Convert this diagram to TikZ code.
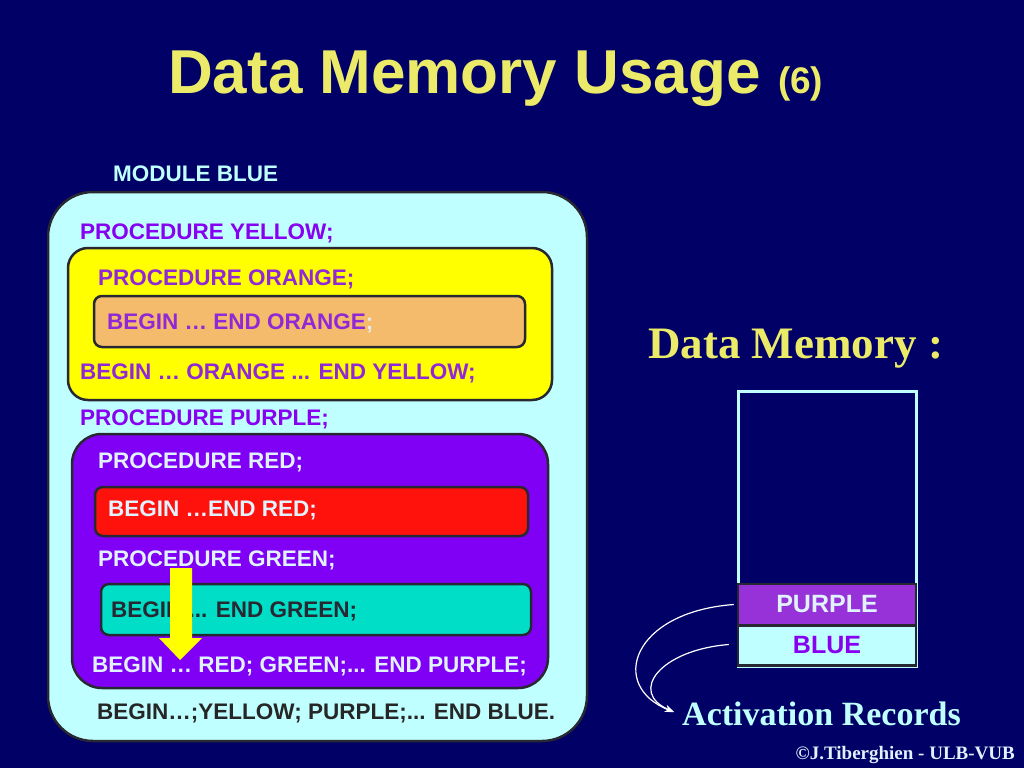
\documentclass[tikz,border=0pt]{standalone}
\usepackage{fontspec}
\setmainfont{Liberation Serif}
\setsansfont{Liberation Sans}
\usepackage{tikz}
\usetikzlibrary{arrows.meta}

\definecolor{slidebg}{RGB}{0,0,102}
\definecolor{titleyellow}{RGB}{235,235,105}
\definecolor{paleblue}{RGB}{192,255,255}
\definecolor{boxline}{RGB}{40,40,50}
\definecolor{violettext}{RGB}{135,0,240}
\definecolor{orchidtext}{RGB}{145,40,215}
\definecolor{procyellow}{RGB}{255,255,0}
\definecolor{procorange}{RGB}{244,187,108}
\definecolor{procpurple}{RGB}{128,0,245}
\definecolor{procred}{RGB}{255,18,12}
\definecolor{procgreen}{RGB}{0,222,200}
\definecolor{lighttext}{RGB}{225,242,255}
\definecolor{recpurple}{RGB}{150,50,215}

\begin{document}
\begin{tikzpicture}[x=1pt, y=-1pt,
            procbox/.style={rectangle, draw=boxline, line width=2.5pt, inner sep=0pt},
            code/.style={anchor=base west, inner sep=0pt, font=\sffamily\bfseries\fontsize{22.5}{27}\selectfont},
            cell/.style={rectangle, draw=boxline, line width=2.5pt, inner sep=0pt, minimum width=178, font=\sffamily\bfseries\fontsize{25}{30}\selectfont},
            curve/.style={draw=white, line width=1.2pt, -{Stealth[length=9pt, width=7pt]}}
        ]

            % Slide background
            \fill[slidebg] (0,0) rectangle (1024,768);
            \useasboundingbox (0,0) rectangle (1024,768);

            % Title
            \node[anchor=base west, inner sep=0pt, text=titleyellow, font=\sffamily\bfseries\fontsize{62}{70}\selectfont] (title) at (168,93) {Data Memory Usage \fontsize{37}{40}\selectfont(6)};

            % Module BLUE
            \node[code, text=paleblue] (modlabel) at (113,181) {MODULE BLUE};
            \node[procbox, fill=paleblue, rounded corners=45pt, minimum width=539, minimum height=549] (blue) at (317.5,466.5) {};
            \node[code, text=violettext] (procyellow) at (80,239) {PROCEDURE YELLOW;};

            % Procedure YELLOW with ORANGE inside
            \node[procbox, fill=procyellow, rounded corners=20pt, minimum width=484, minimum height=152] (yellow) at (310,324) {};
            \node[code, text=orchidtext] (procorange) at (98,285) {PROCEDURE ORANGE;};
            \node[procbox, fill=procorange, rounded corners=8pt, minimum width=431, minimum height=51] (orange) at (309.5,321.5) {};
            \node[code, text=orchidtext] (orangebody) at (107,329) {BEGIN … END ORANGE\textcolor{lighttext!85!procorange}{;}};
            \node[code, text=orchidtext] (yellowbody) at (80,379) {BEGIN … ORANGE ... END YELLOW;};

            % Procedure PURPLE with RED and GREEN inside
            \node[code, text=violettext] (procpurple) at (80,425) {PROCEDURE PURPLE;};
            \node[procbox, fill=procpurple, rounded corners=30pt, minimum width=476, minimum height=254] (purple) at (310,561) {};
            \node[code, text=lighttext] (procred) at (98,468) {PROCEDURE RED;};
            \node[procbox, fill=procred, rounded corners=8pt, minimum width=433, minimum height=49] (red) at (311.5,511.5) {};
            \node[code, text=lighttext] (redbody) at (108,516) {BEGIN …END RED;};
            \node[code, text=lighttext] (procgreen) at (98,566) {PROCEDURE GREEN;};
            \node[procbox, fill=procgreen, rounded corners=8pt, minimum width=430, minimum height=51] (green) at (316,609.5) {};
            \node[code, text=boxline] (greenbody) at (111,617) {BEGIN ... END GREEN;};
            \node[code, text=lighttext] (purplebody) at (92,672) {BEGIN … RED; GREEN;... END PURPLE;};
            \node[code, text=black!85] (bluebody) at (97,719) {BEGIN…;YELLOW; PURPLE;... END BLUE.};

            % Yellow call arrow
            \fill[procyellow] (170,568) -- (192,568) -- (192,638) -- (202,638) -- (180,660) -- (159,638) -- (170,638) -- cycle;

            % Data memory
            \node[anchor=base west, inner sep=0pt, text=titleyellow, font=\rmfamily\bfseries\fontsize{45}{50}\selectfont] (memlabel) at (648,358) {Data Memory :};
            \node[rectangle, draw=paleblue, line width=3pt, minimum width=178, minimum height=275, inner sep=0pt] (mem) at (827,528.5) {};
            \node[cell, fill=recpurple, text=lighttext, minimum height=41] (recpurple) at (827,604.5) {PURPLE};
            \node[cell, fill=paleblue, text=violettext, minimum height=40] (recblue) at (827,645.5) {BLUE};

            % Activation records
            \node[anchor=base west, inner sep=0pt, text=paleblue, font=\rmfamily\bfseries\fontsize{34}{40}\selectfont] (actrec) at (682,725) {Activation Records};
            \coordinate (actend) at (674,712);
            \draw[curve] ([xshift=-3pt]recpurple.west) .. controls (632,612) and (608,686) .. (actend);
            \draw[curve] ([xshift=-8pt,yshift=1pt]recblue.west) .. controls (660,650) and (628,692) .. (actend);

            % Copyright
            \node[anchor=base east, inner sep=0pt, text=lighttext, font=\rmfamily\bfseries\fontsize{19}{22}\selectfont] (copyright) at (1015,759) {©J.Tiberghien - ULB-VUB};

        \end{tikzpicture}
\end{document}
